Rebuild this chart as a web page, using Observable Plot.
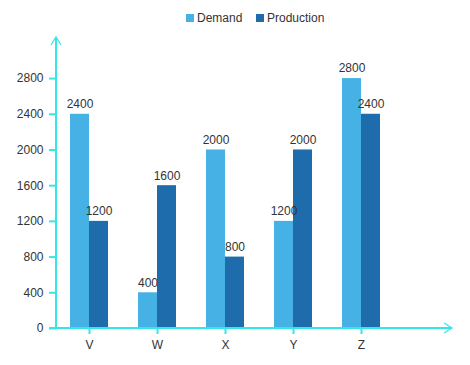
<!DOCTYPE html>
<html>
<head>
<meta charset="utf-8">
<script src="https://cdn.jsdelivr.net/npm/d3@7"></script>
<script src="https://cdn.jsdelivr.net/npm/@observablehq/plot@0.6"></script>
<style>
  html, body { margin: 0; padding: 0; background: #fff; }
  #wrap { position: relative; width: 470px; height: 365px; font-family: "Liberation Sans", Arial, sans-serif; }
  #legend { position: absolute; top: 11px; left: 0; width: 470px; font-size: 12px; color: #333; }
  #legend .item { position: absolute; top: 0; display: flex; align-items: center; white-space: nowrap; }
  #legend .sw { width: 8px; height: 8px; margin-right: 3px; }
  svg [aria-label^="x-axis"] line, svg [aria-label^="x-axis"] path,
  svg [aria-label^="y-axis"] line, svg [aria-label^="y-axis"] path { stroke: #35e6e6; stroke-width: 2px; }
</style>
</head>
<body>
<div id="wrap">
  <div id="legend"></div>
</div>
<script>
const categories = ["V", "W", "X", "Y", "Z"];
const demand = [2400, 400, 2000, 1200, 2800];
const production = [1200, 1600, 800, 2000, 2400];
const yTicks = [0, 400, 800, 1200, 1600, 2000, 2400, 2800];
const seriesNames = ["Demand", "Production"];
const colors = ["#45b1e4", "#1e6cab"];
const axisColor = "#35e6e6";

const data = categories.map((c, i) => ({cat: c, demand: demand[i], production: production[i]}));

const axes = (index, scales, values, dims) => {
  const g = d3.create("svg:g").attr("stroke", axisColor).attr("stroke-width", 2).attr("fill", "none");
  const x0 = dims.marginLeft;
  const y0 = scales.y(0);
  const top = dims.marginTop;
  const right = dims.width - dims.marginRight;
  g.append("line").attr("x1", x0).attr("x2", x0).attr("y1", y0).attr("y2", top);
  g.append("path").attr("d", `M${x0 - 5},${top + 8}L${x0},${top}L${x0 + 5},${top + 8}`).attr("stroke-width", 1.2);
  g.append("line").attr("x1", x0 - 7).attr("x2", right).attr("y1", y0).attr("y2", y0);
  g.append("path").attr("d", `M${right - 8},${y0 - 5}L${right},${y0}L${right - 8},${y0 + 5}`).attr("stroke-width", 1.2);
  return g.node();
};

const chart = Plot.plot({
  width: 470,
  height: 365,
  marginLeft: 56,
  marginRight: 18,
  marginTop: 37,
  marginBottom: 37,
  style: {fontFamily: "'Liberation Sans', Arial, sans-serif", fontSize: "12px", color: "#333", background: "white", overflow: "visible"},
  x: {domain: categories, range: [55, 395], paddingInner: 0.44, paddingOuter: 0.22, label: null, tickSize: 6, tickPadding: 6},
  y: {domain: [0, 3260], ticks: yTicks, label: null, tickSize: 7, tickPadding: 6, tickFormat: d => String(d)},
  marks: [
    Plot.barY(data, {x: "cat", y: "demand", fill: colors[0], insetRight: 19, insetLeft: 0}),
    Plot.barY(data, {x: "cat", y: "production", fill: colors[1], insetLeft: 19, insetRight: 0}),
    Plot.text(data, {x: "cat", y: "demand", text: d => String(d.demand), dx: -9.5, dy: -10, fill: "#333", fontSize: 12}),
    Plot.text(data, {x: "cat", y: "production", text: d => String(d.production), dx: 9.5, dy: -10, fill: "#333", fontSize: 12}),
    axes
  ]
});
document.getElementById("wrap").appendChild(chart);

const legend = document.getElementById("legend");
const legendX = [186, 256];
seriesNames.forEach((name, i) => {
  const item = document.createElement("div");
  item.className = "item";
  item.style.left = legendX[i] + "px";
  const sw = document.createElement("span");
  sw.className = "sw";
  sw.style.background = colors[i];
  const t = document.createElement("span");
  t.textContent = name;
  item.appendChild(sw);
  item.appendChild(t);
  legend.appendChild(item);
});
</script>
</body>
</html>
